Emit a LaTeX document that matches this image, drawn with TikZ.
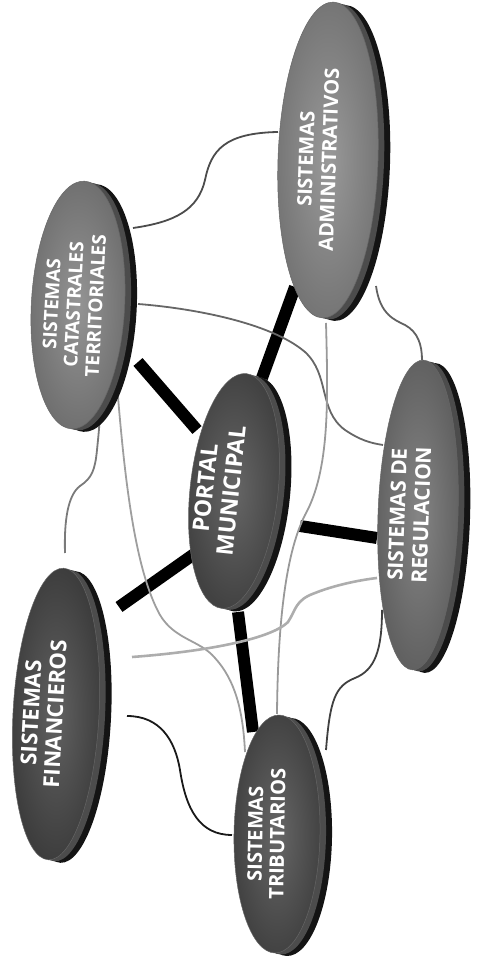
\documentclass[tikz,border=0pt]{standalone}
\usepackage{fontspec}
\setsansfont{Open Sans}
\usetikzlibrary{shapes.geometric,calc}
\pgfdeclarelayer{back}
\pgfsetlayers{back,main}

% text set off the middle of its ellipse, toward the light side
\newcommand\liftup[2]{\raisebox{#1}[\height][\depth]{\begin{tabular}{@{}c@{}}#2\end{tabular}}}

\tikzset{
  sys/.style={ellipse, inner sep=0pt, align=center, text=white,
    draw=black!60, line width=.5pt,
    preaction={fill=black!92, transform canvas={xshift=12pt, yshift=-3pt}},
    preaction={fill=black!70, transform canvas={xshift=6pt, yshift=-1.5pt}}},
  face/.style={inner color=black!#1, outer color=black!\the\numexpr#1+14\relax},
  bar/.style={line width=12pt, black},
  link/.style={line width=1.8pt},
}

\begin{document}
\begin{tikzpicture}[x=1pt, y=1pt]
\useasboundingbox (0,0) rectangle (478,961);

% systems
\node[sys, face=40, rotate=88, minimum width=316pt, minimum height=100pt,
  font=\sffamily\bfseries\fontsize{20}{23}\selectfont] (admin) at (328,801) {\liftup{8pt}{SISTEMAS\\ADMINISTRATIVOS}};
\node[sys, face=42, rotate=87, minimum width=248pt, minimum height=88pt,
  font=\sffamily\bfseries\fontsize{19}{22}\selectfont] (catast) at (78,656) {\liftup{2pt}{SISTEMAS\\CATASTRALES\\TERRITORIALES}};
\node[sys, face=60, rotate=84, minimum width=236pt, minimum height=88pt,
  font=\sffamily\bfseries\fontsize{23}{26}\selectfont] (portal) at (234,470) {\liftup{13pt}{PORTAL\\MUNICIPAL}};
\node[sys, face=48, rotate=88, minimum width=310pt, minimum height=80pt,
  font=\sffamily\bfseries\fontsize{21}{24}\selectfont] (regul) at (418,446) {\liftup{6pt}{SISTEMAS DE\\REGULACION}};
\node[sys, face=62, rotate=87, minimum width=292pt, minimum height=86pt,
  font=\sffamily\bfseries\fontsize{22}{24}\selectfont] (financ) at (56,247) {\liftup{10pt}{SISTEMAS\\FINANCIEROS}};
\node[sys, face=60, rotate=89, minimum width=238pt, minimum height=86pt,
  font=\sffamily\bfseries\fontsize{20}{22}\selectfont] (tribut) at (277,127) {\liftup{8pt}{SISTEMAS\\TRIBUTARIOS}};

\begin{pgfonlayer}{back}
% portal links
\draw[bar] ($(portal)+(-37,61)$) -- ($(catast)+(60,-57)$);
\draw[bar] ($(portal)+(28,113)$) -- ($(admin)+(-33,-127)$);
\draw[bar] ($(portal)+(66,-35)$) -- ($(regul)+(-41,-23)$);
\draw[bar] ($(portal)+(-37,-61)$) -- ($(financ)+(63,107)$);
\draw[bar] ($(portal)+(4,-121)$) -- ($(tribut)+(-24,102)$);

% other links
\draw[link, black!70] ($(catast)+(55,77)$) .. controls (175,739) and (198,751) .. (205,781)
  .. controls (211,811) and (225,828) .. ($(admin)+(-50,28)$);
\draw[link, black!60] ($(catast)+(60,1)$) .. controls (190,653) and (270,639) .. (305,609)
  .. controls (330,586) and (318,551) .. (345,531) .. controls (360,521) and (370,518) .. ($(regul)+(-35,70)$);
\draw[link, black!62] ($(admin)+(48,-126)$) .. controls (380,646) and (395,641) .. (405,636)
  .. controls (418,629) and (422,616) .. ($(regul)+(4,155)$);
\draw[link, black!40] ($(admin)+(-2,-163)$) .. controls (328,561) and (330,491) .. (305,446)
  .. controls (290,416) and (278,361) .. ($(tribut)+(0,120)$);
\draw[link, black!38] ($(catast)+(40,-92)$) .. controls (125,481) and (135,391) .. (160,346)
  .. controls (175,321) and (200,321) .. (215,303) .. controls (235,281) and (243,251) .. ($(tribut)+(-32,82)$);
\draw[link, black!32, line width=2.6pt] ($(financ)+(76,57)$) .. controls (200,309) and (270,321) .. (288,339)
  .. controls (296,351) and (295,361) .. (315,368) .. controls (335,376) and (360,381) .. ($(regul)+(-41,-63)$);
\draw[link, black!52] ($(financ)+(9,161)$) .. controls (64,441) and (68,466) .. (80,475)
  .. controls (92,483) and (95,491) .. (97,511) .. controls (99,531) .. ($(catast)+(22,-110)$);
\draw[link, black!90] ($(financ)+(71,-2)$) .. controls (160,245) and (175,221) .. (180,191)
  .. controls (186,151) and (200,126) .. ($(tribut)+(-45,-1)$);
\draw[link, black!75] ($(regul)+(-36,-95)$) .. controls (382,311) and (375,291) .. (355,283)
  .. controls (335,275) and (330,261) .. ($(tribut)+(49,84)$);
\end{pgfonlayer}
\end{tikzpicture}
\end{document}
